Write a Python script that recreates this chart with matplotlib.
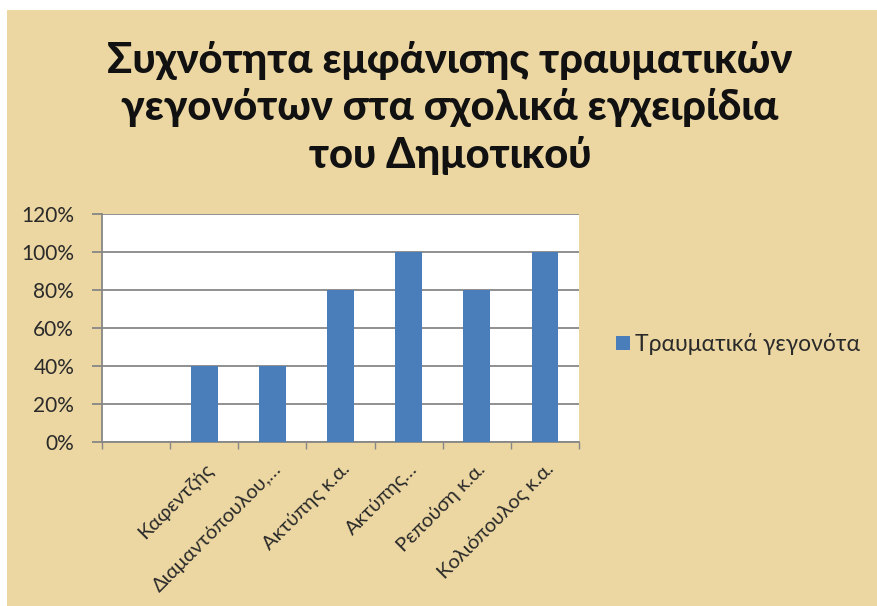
import matplotlib
matplotlib.use("Agg")
import matplotlib.pyplot as plt
from matplotlib.patches import Rectangle
import numpy as np

categories = ["", "Καφεντζής", "Διαμαντόπουλου,…", "Ακτύπης κ.α.", "Ακτύπης…",
              "Ρεπούση κ.α.", "Κολιόπουλος κ.α."]
values = [0.0, 0.40, 0.40, 0.80, 1.00, 0.80, 1.00]
series_name = "Τραυματικά γεγονότα"
title = "Συχνότητα εμφάνισης τραυματικών\nγεγονότων στα σχολικά εγχειρίδια\nτου Δημοτικού"
yticks = [0, 0.2, 0.4, 0.6, 0.8, 1.0, 1.2]
ytick_labels = ["0%", "20%", "40%", "60%", "80%", "100%", "120%"]

FONT = ["Lato", "Noto Sans", "DejaVu Sans"]
plt.rcParams["font.family"] = FONT

W, H = 877, 606
fig = plt.figure(figsize=(W / 100, H / 100), dpi=100, facecolor="white")

# parchment background panel (white margin top/left)
bg = Rectangle((7 / W, 0), 1 - 7 / W, 1 - 10 / H, transform=fig.transFigure,
               facecolor="#ECD7A2", edgecolor="none", zorder=-10)
fig.patches.append(bg)

ax = fig.add_axes([102 / W, 164 / H, 477 / W, 228 / H])
ax.set_facecolor("white")
x = np.arange(len(categories))
bars = ax.bar(x, values, width=0.39, color="#4A7EBB", label=series_name, zorder=3)

ax.set_xlim(-0.5, len(categories) - 0.5)
ax.set_ylim(0, 1.2)
ax.set_yticks(yticks)
ax.set_yticklabels(ytick_labels, fontsize=15, color="#2a2a2a")
ax.yaxis.grid(True, color="#878787", linewidth=1.3, zorder=0)
ax.tick_params(axis="y", length=7, width=1.3, color="#878787", pad=13)

ax.set_xticks(np.arange(-0.5, len(categories) + 0.5, 1), minor=False)
ax.set_xticklabels([])
ax.tick_params(axis="x", length=5, width=1.0, color="#878787")
ax.set_xticks(x, minor=True)
ax.set_xticklabels(categories, minor=True, rotation=45, ha="right", va="top",
                   rotation_mode="anchor", fontsize=14.5, color="#2a2a2a")
ax.tick_params(axis="x", which="minor", length=0, pad=13)

for s in ["top", "right"]:
    ax.spines[s].set_visible(False)
ax.spines["left"].set_color("#878787")
ax.spines["bottom"].set_color("#878787")
ax.spines["left"].set_linewidth(1.3)
ax.spines["bottom"].set_linewidth(1.3)

fig.text(450 / W, 1 - 108 / H, title, ha="center", va="center", fontsize=30,
         fontweight="black", color="#111111", linespacing=1.28)

leg = fig.legend(handles=[bars], labels=[series_name], loc="center left",
                 bbox_to_anchor=(616 / W, 1 - 344 / H), frameon=False,
                 fontsize=16.5, handlelength=0.6, handleheight=0.6,
                 handletextpad=0.25, borderaxespad=0, borderpad=0)
for t in leg.get_texts():
    t.set_color("#2a2a2a")

fig.savefig("out.png", dpi=100, facecolor=fig.get_facecolor())
